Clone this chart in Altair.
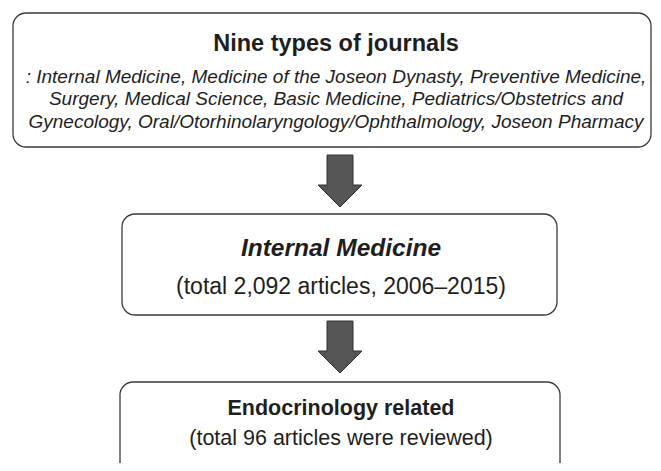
import altair as alt
import pandas as pd

# ---- flowchart content ----
box_names = ["journals", "internal", "endocrine"]
box_x1 = [13, 122, 120]
box_x2 = [651, 557, 560]
box_y1 = [13, 214, 382]
box_y2 = [147, 315, 480]

arrow_names = ["journals_to_internal", "internal_to_endocrine"]
arrow_x = [340, 340]
arrow_y = [181, 347]

text_lines = [
    "Nine types of journals",
    ": Internal Medicine, Medicine of the Joseon Dynasty, Preventive Medicine,",
    "Surgery, Medical Science, Basic Medicine, Pediatrics/Obstetrics and",
    "Gynecology, Oral/Otorhinolaryngology/Ophthalmology, Joseon Pharmacy",
    "Internal Medicine",
    "(total 2,092 articles, 2006\u20132015)",
    "Endocrinology related",
    "(total 96 articles were reviewed)",
]
text_x = [336, 336, 336, 336, 341, 341, 341, 341]
text_y = [44, 77, 99, 122, 249, 287, 409, 439]
text_size = [23.5, 19, 19, 19, 24.5, 23, 21.5, 21.5]
text_weight = ["bold", "normal", "normal", "normal", "bold", "normal", "bold", "normal"]
text_style = ["normal", "italic", "italic", "italic", "italic", "normal", "normal", "normal"]

boxes = pd.DataFrame({"name": box_names, "x1": box_x1, "x2": box_x2, "y1": box_y1, "y2": box_y2})
arrows = pd.DataFrame({"name": arrow_names, "x": arrow_x, "y": arrow_y})
texts = pd.DataFrame({"label": text_lines, "x": text_x, "y": text_y, "size": text_size,
                      "weight": text_weight, "style": text_style})

xs = alt.Scale(domain=[8, 653], nice=False, zero=False)
ys = alt.Scale(domain=[8, 463], nice=False, zero=False, reverse=True)

rects = alt.Chart(boxes).mark_rect(
    cornerRadius=13, fill="white", stroke="#3a3a3a", strokeWidth=1.3
).encode(
    x=alt.X("x1:Q", scale=xs, axis=None), x2="x2:Q",
    y=alt.Y("y1:Q", scale=ys, axis=None), y2="y2:Q",
)

arrow_path = "M-0.5,-1L0.5,-1L0.5,0.154L0.846,0.154L0,1L-0.846,0.154L-0.5,0.154Z"
arrow_marks = alt.Chart(arrows).mark_point(
    shape=arrow_path, size=2704, filled=True, fill="#555555", stroke="#333333",
    strokeWidth=1, opacity=1
).encode(
    x=alt.X("x:Q", scale=xs, axis=None),
    y=alt.Y("y:Q", scale=ys, axis=None),
)

layers = [rects, arrow_marks]
for i in range(len(text_lines)):
    sub = texts.iloc[[i]]
    layers.append(
        alt.Chart(sub).mark_text(
            font="Liberation Sans", fontSize=text_size[i], fontWeight=text_weight[i],
            fontStyle=text_style[i], color="#1e1e1e", align="center", baseline="middle"
        ).encode(
            x=alt.X("x:Q", scale=xs, axis=None),
            y=alt.Y("y:Q", scale=ys, axis=None),
            text="label:N",
        )
    )

chart = alt.layer(*layers).properties(
    width=645, height=455, padding=0, autosize=alt.AutoSizeParams(type="none"),
    background="white"
).configure_view(stroke=None)

chart.save("out.html", embed_options={"renderer": "svg", "actions": False})
